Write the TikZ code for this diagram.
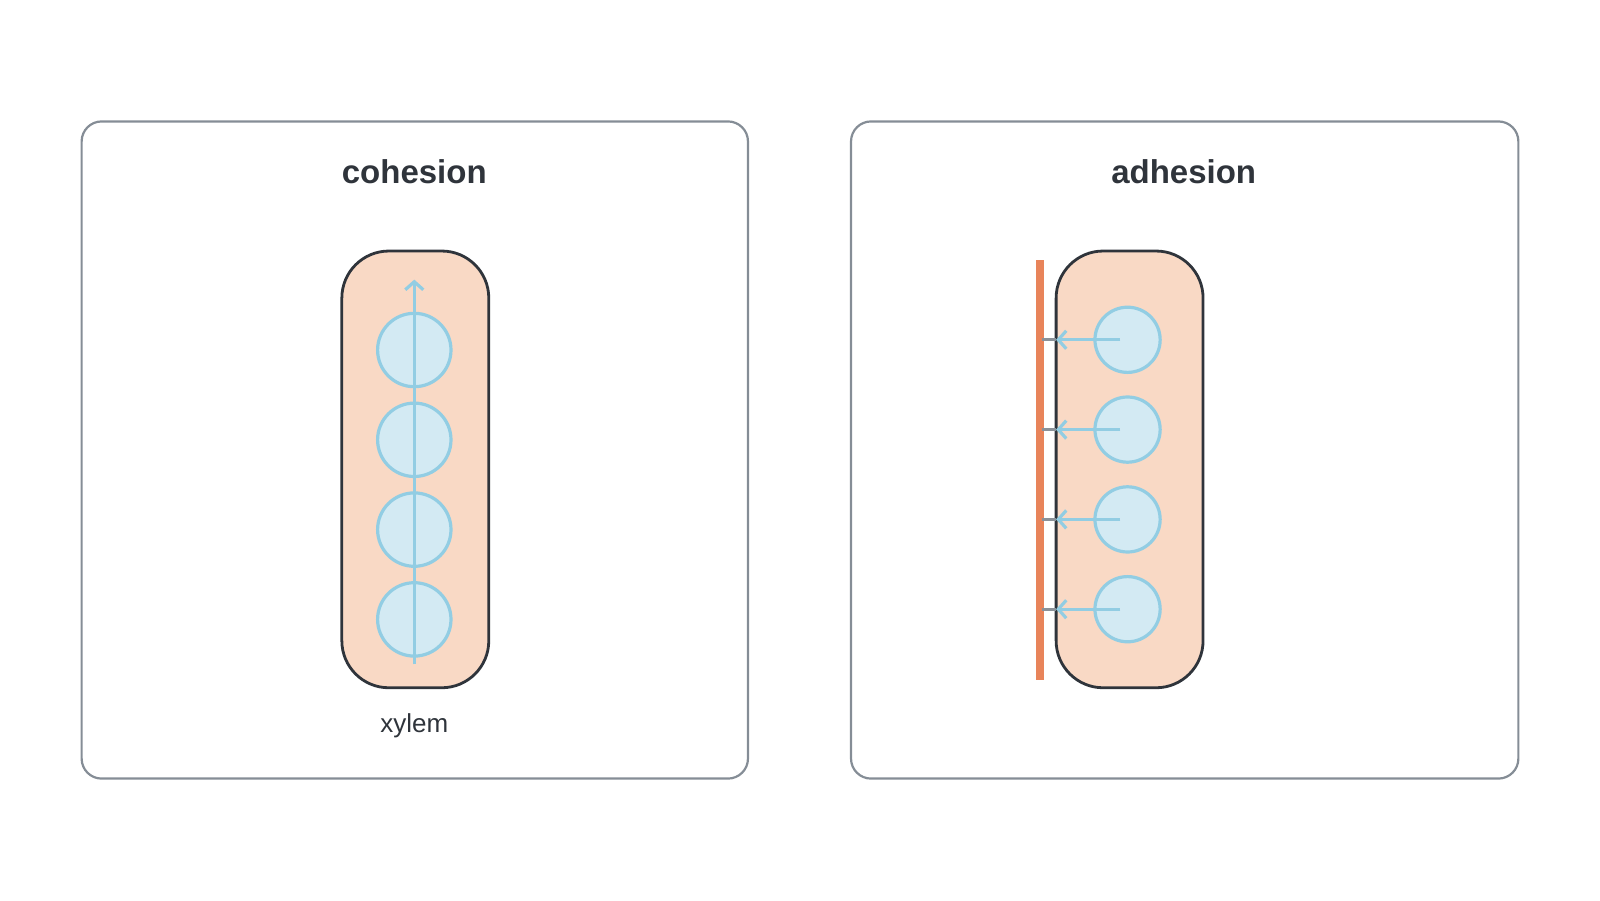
\documentclass[tikz,border=0pt]{standalone}
\usepackage{fontspec}
\setmainfont{Liberation Sans}
\usetikzlibrary{arrows.meta}
\definecolor{frame}{HTML}{858D96}
\definecolor{dark}{HTML}{2F343B}
\definecolor{peach}{HTML}{F9D9C5}
\definecolor{wblue}{HTML}{92CDE3}
\definecolor{wfill}{HTML}{D3EAF3}
\definecolor{orng}{HTML}{E8845A}
\definecolor{gry}{HTML}{8A9199}
\begin{document}
\begin{tikzpicture}[x=0.5102pt,y=-0.5102pt,
  panel/.style={draw=frame,line width=1.1pt,rounded corners=10pt},
  tube/.style={draw=dark,fill=peach,line width=1.4pt,rounded corners=23.5pt},
  mol/.style={circle,draw=wblue,fill=wfill,line width=1.6pt,inner sep=0pt},
  flow/.style={draw=wblue,line width=1.6pt,-{Straight Barb[length=4pt,width=9pt,line width=1.6pt]}},
  title/.style={font=\bfseries\fontsize{16.5}{19}\selectfont,text=dark},
  lab/.style={font=\fontsize{13}{15}\selectfont,text=dark}]
\useasboundingbox (0,0) rectangle (1568,882);
% left panel
\draw[panel] (80,119) rectangle (733,763);
\node[title] (t1) at (406,168) {cohesion};
\draw[tube] (335,246) rectangle (479,674);
\foreach \i/\y in {1/343,2/431,3/519,4/607}
  \node[mol,minimum size=36.7pt] (c\i) at (406,\y) {};
\coordinate (bot) at (406,651);
\coordinate (top) at (406,274);
\draw[flow] (bot) -- (top);
\node[lab] (xy) at (406,711) {xylem};
% right panel
\draw[panel] (834,119) rectangle (1488,763);
\node[title] (t2) at (1160,168) {adhesion};
\draw[tube] (1035,246) rectangle (1179,674);
\draw[orng,line width=4pt] (1019,255) coordinate (wt) -- (1019,666) coordinate (wb);
\foreach \i/\y in {1/333,2/421,3/509,4/597}{
  \node[mol,minimum size=32.6pt] (a\i) at (1105,\y) {};
  \coordinate (e\i) at (1035,\y);
  \coordinate (w\i) at (1021,\y);
  \draw[gry,line width=1.6pt] (w\i) -- (e\i);
  \draw[flow] ([xshift=-3.6pt]a\i.center) -- (e\i);
}
\end{tikzpicture}
\end{document}
